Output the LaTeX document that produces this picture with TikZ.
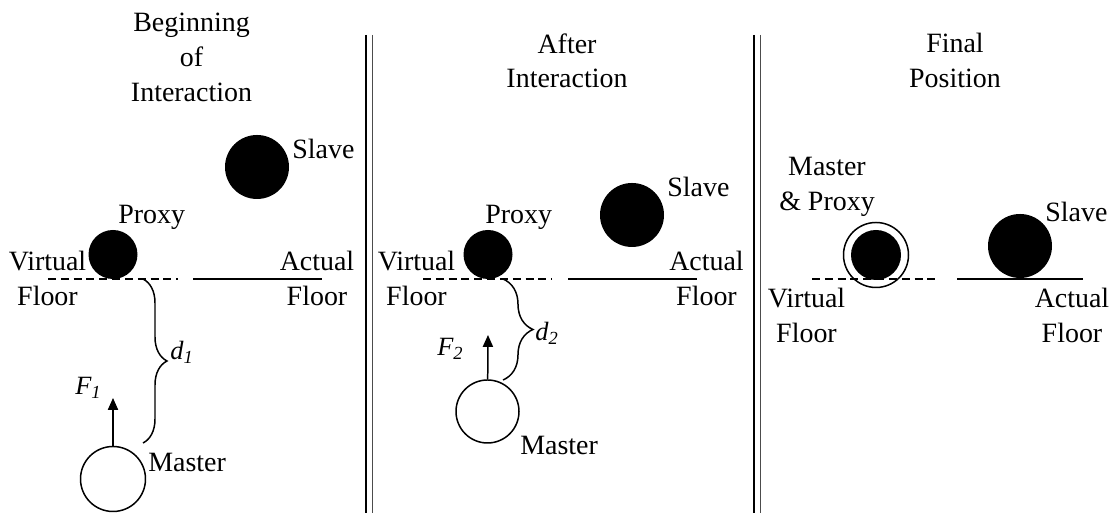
\documentclass[tikz,border=0pt]{standalone}
\usepackage{fontspec}
\setmainfont{Liberation Serif}
\usetikzlibrary{arrows.meta, positioning, decorations.pathreplacing}

\begin{document}
\begin{tikzpicture}[
    txt/.style={font=\fontsize{15.9}{19.9}\selectfont, inner sep=0pt},
    ttl/.style={txt, align=center, anchor=north},
    flr/.style={txt, align=center, anchor=north},
    lbl/.style={txt, anchor=base west},
    sym/.style={inner sep=0pt, anchor=base west,
      font=\fontsize{#1}{#1}\selectfont\itshape},
    solidball/.style={circle, fill=black, inner sep=0pt, minimum size=#1},
    hollowball/.style={circle, draw, line width=0.85pt, inner sep=0pt,
      minimum size=#1},
    vfloor/.style={line width=0.85pt, dash pattern=on 4.5pt off 2.8pt},
    afloor/.style={line width=0.85pt},
    brc/.style={decorate, decoration={brace, amplitude=#1}, line width=0.85pt},
    arr/.style={-{Triangle[length=6.8pt, width=5.8pt]}, line width=0.85pt},
    sep/.style={line width=0.85pt},
  ]
    \useasboundingbox (0,0) rectangle (22.36,10.26);

    % ═══ Beginning of interaction ═══
    \node[ttl] (title1) at (3.83, 10.00) {Beginning\\of\\Interaction};
    \node[solidball=1.28cm] (slave1) at (5.14, 6.92) {};
    \node[lbl] (slavelbl1) at (5.84, 7.08) {Slave};
    \node[solidball=0.98cm] (proxy1) at (2.26, 5.17) {};
    \node[lbl] (proxylbl1) at (2.36, 5.78) {Proxy};
    \node[hollowball=1.30cm] (master1) at (2.26, 0.68) {};
    \node[lbl] (masterlbl1) at (2.96, 0.82) {Master};

    % floors
    \draw[vfloor] (0.96, 4.68) -- (3.56, 4.68);
    \draw[afloor] (3.86, 4.68) -- (6.44, 4.68);
    \node[flr] (vfl1) at (0.95, 5.25) {Virtual\\Floor};
    \node[flr] (afl1) at (6.34, 5.25) {Actual\\Floor};

    % distance and force
    \coordinate (b1top) at (2.86, 4.68);
    \coordinate (b1bot) at (2.86, 1.40);
    \draw[brc=0.48cm] (b1top) -- (b1bot);
    \node[sym=15] (d1) at (3.40, 3.06) {d\textsubscript{1}};
    \coordinate (f1tip) at (2.26, 2.30);
    \draw[arr] (master1) -- (f1tip);
    \node[sym=15] (f1) at (1.50, 2.36) {F\textsubscript{1}};

    % Divider
    \draw[sep] (7.32, 9.56) -- (7.32, 0);
    \draw[sep, black!70] (7.45, 9.56) -- (7.45, 0);

    % ═══ After interaction ═══
    \node[ttl] (title2) at (11.34, 9.60) {After\\Interaction};
    \node[solidball=1.28cm] (slave2) at (12.64, 5.96) {};
    \node[lbl] (slavelbl2) at (13.34, 6.32) {Slave};
    \node[solidball=0.98cm] (proxy2) at (9.76, 5.17) {};
    \node[lbl] (proxylbl2) at (9.70, 5.78) {Proxy};
    \node[hollowball=1.26cm] (master2) at (9.75, 2.03) {};
    \node[lbl] (masterlbl2) at (10.40, 1.16) {Master};

    % floors
    \draw[vfloor] (8.46, 4.68) -- (11.04, 4.68);
    \draw[afloor] (11.36, 4.68) -- (13.94, 4.68);
    \node[flr] (vfl2) at (8.33, 5.25) {Virtual\\Floor};
    \node[flr] (afl2) at (14.13, 5.25) {Actual\\Floor};

    % distance and force
    \coordinate (b2top) at (10.06, 4.68);
    \coordinate (b2bot) at (10.06, 2.66);
    \draw[brc=0.6cm] (b2top) -- (b2bot);
    \node[sym=15] (d2) at (10.70, 3.44) {d\textsubscript{2}};
    \coordinate (f2tip) at (9.76, 3.56);
    \draw[arr] (master2) -- (f2tip);
    \node[sym=15] (f2) at (8.74, 3.14) {F\textsubscript{2}};

    % Divider
    \draw[sep] (15.08, 9.56) -- (15.08, 0);
    \draw[sep, black!70] (15.21, 9.56) -- (15.21, 0);

    % ═══ Final position ═══
    \node[ttl] (title3) at (19.10, 9.60) {Final\\Position};
    \node[hollowball=1.30cm] (master3) at (17.52, 5.16) {};
    \node[solidball=1.00cm] (proxy3) at (17.52, 5.16) {};
    \node[flr] (mplbl3) at (16.54, 7.13) {Master\\\& Proxy};
    \node[solidball=1.28cm] (slave3) at (20.40, 5.34) {};
    \node[lbl] (slavelbl3) at (20.90, 5.82) {Slave};

    % floors
    \draw[vfloor] (16.24, 4.68) -- (18.80, 4.68);
    \draw[afloor] (19.14, 4.68) -- (21.66, 4.68);
    \node[flr] (vfl3) at (16.13, 4.50) {Virtual\\Floor};
    \node[flr] (afl3) at (21.44, 4.50) {Actual\\Floor};
  \end{tikzpicture}
\end{document}
